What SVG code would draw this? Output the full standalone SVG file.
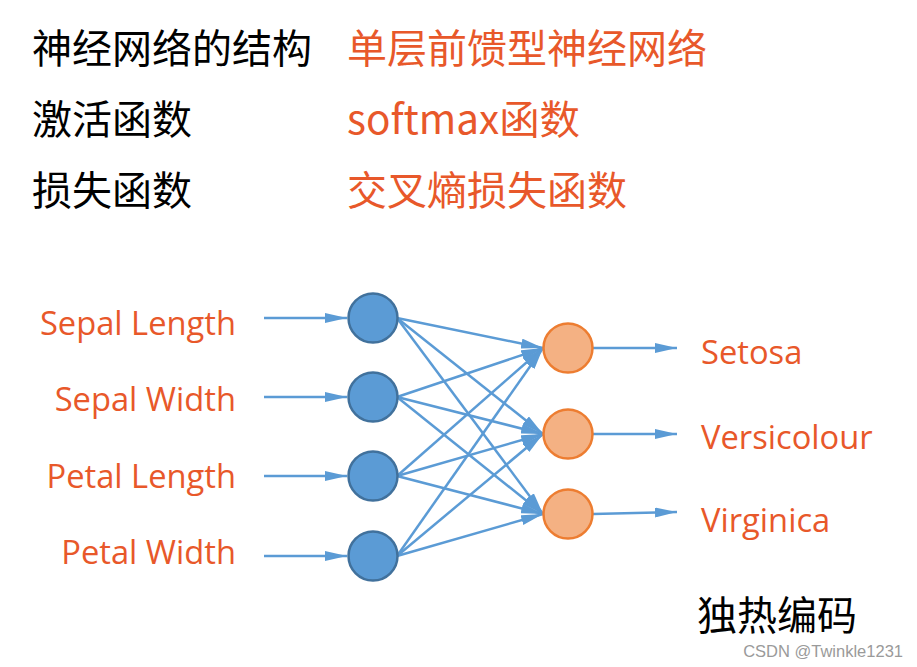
<svg xmlns="http://www.w3.org/2000/svg" width="917" height="667" viewBox="0 0 917 667">
  <style>
    .cjk { font-family: "Noto Sans CJK SC", "Microsoft YaHei", sans-serif; font-size: 40px; }
    .dark { fill: #000000; }
    .accent { fill: #E8582A; }
    .lbl { font-family: "Open Sans", "Noto Sans", sans-serif; font-size: 32.7px; fill: #E8582A; }
    .in { fill: #5B9BD5; stroke: #41719C; stroke-width: 2.5; }
    .out { fill: #F4B183; stroke: #ED7D31; stroke-width: 2.5; }
    .edge { stroke: #5B9BD5; stroke-width: 2.5; fill: none; marker-end: url(#head); }
    .mark { font-family: "Liberation Sans", Arial, sans-serif; font-size: 16.5px; fill: #9a9a9a; }
  </style>
  <defs>
    <marker id="head" viewBox="0 0 22 10" refX="22" refY="5" markerWidth="22" markerHeight="10" markerUnits="userSpaceOnUse" orient="auto">
      <path d="M0,0 L22,5 L0,10 z" fill="#5B9BD5"/>
    </marker>
  </defs>
  <rect width="917" height="667" fill="#ffffff"/>

  <!-- summary table -->
  <g id="summary">
    <text class="cjk dark" x="32" y="63">神经网络的结构</text>
    <text class="cjk accent" x="347" y="63">单层前馈型神经网络</text>
    <text class="cjk dark" x="32" y="134">激活函数</text>
    <text class="cjk accent" x="347" y="134" textLength="233" lengthAdjust="spacingAndGlyphs">softmax函数</text>
    <text class="cjk dark" x="32" y="205">损失函数</text>
    <text class="cjk accent" x="347" y="205">交叉熵损失函数</text>
  </g>

  <!-- connectors -->
  <g id="connectors">
    <line class="edge" x1="264" y1="318" x2="347" y2="318"/>
    <line class="edge" x1="264" y1="397" x2="347" y2="397"/>
    <line class="edge" x1="264" y1="476" x2="347" y2="476"/>
    <line class="edge" x1="264" y1="556" x2="347" y2="556"/>

    <line class="edge" x1="397" y1="318" x2="543" y2="348"/>
    <line class="edge" x1="397" y1="318" x2="543" y2="434"/>
    <line class="edge" x1="397" y1="318" x2="543" y2="514"/>
    <line class="edge" x1="397" y1="397" x2="543" y2="348"/>
    <line class="edge" x1="397" y1="397" x2="543" y2="434"/>
    <line class="edge" x1="397" y1="397" x2="543" y2="514"/>
    <line class="edge" x1="397" y1="476" x2="543" y2="348"/>
    <line class="edge" x1="397" y1="476" x2="543" y2="434"/>
    <line class="edge" x1="397" y1="476" x2="543" y2="514"/>
    <line class="edge" x1="397" y1="556" x2="543" y2="348"/>
    <line class="edge" x1="397" y1="556" x2="543" y2="434"/>
    <line class="edge" x1="397" y1="556" x2="543" y2="514"/>

    <line class="edge" x1="593" y1="348" x2="677" y2="348"/>
    <line class="edge" x1="593" y1="434" x2="677" y2="434"/>
    <line class="edge" x1="593" y1="514" x2="677" y2="512"/>
  </g>

  <!-- input layer -->
  <g id="in-sepal-length">
    <text class="lbl" x="236" y="334.5" text-anchor="end">Sepal Length</text>
    <circle class="in" cx="373" cy="318" r="24.5"/>
  </g>
  <g id="in-sepal-width">
    <text class="lbl" x="236" y="410.5" text-anchor="end">Sepal Width</text>
    <circle class="in" cx="373" cy="397" r="24.5"/>
  </g>
  <g id="in-petal-length">
    <text class="lbl" x="236" y="487.5" text-anchor="end">Petal Length</text>
    <circle class="in" cx="373" cy="476" r="24.5"/>
  </g>
  <g id="in-petal-width">
    <text class="lbl" x="236" y="563.5" text-anchor="end">Petal Width</text>
    <circle class="in" cx="373" cy="556" r="24.5"/>
  </g>

  <!-- output layer -->
  <g id="out-setosa">
    <circle class="out" cx="568" cy="348" r="24.5"/>
    <text class="lbl" x="701" y="364">Setosa</text>
  </g>
  <g id="out-versicolour">
    <circle class="out" cx="568" cy="434" r="24.5"/>
    <text class="lbl" x="701" y="448.5">Versicolour</text>
  </g>
  <g id="out-virginica">
    <circle class="out" cx="568" cy="514" r="24.5"/>
    <text class="lbl" x="701" y="531.5">Virginica</text>
  </g>

  <g id="encoding">
    <text class="cjk dark" x="697" y="630">独热编码</text>
  </g>
  <text class="mark" x="903" y="657" text-anchor="end">CSDN @Twinkle1231</text>
</svg>
